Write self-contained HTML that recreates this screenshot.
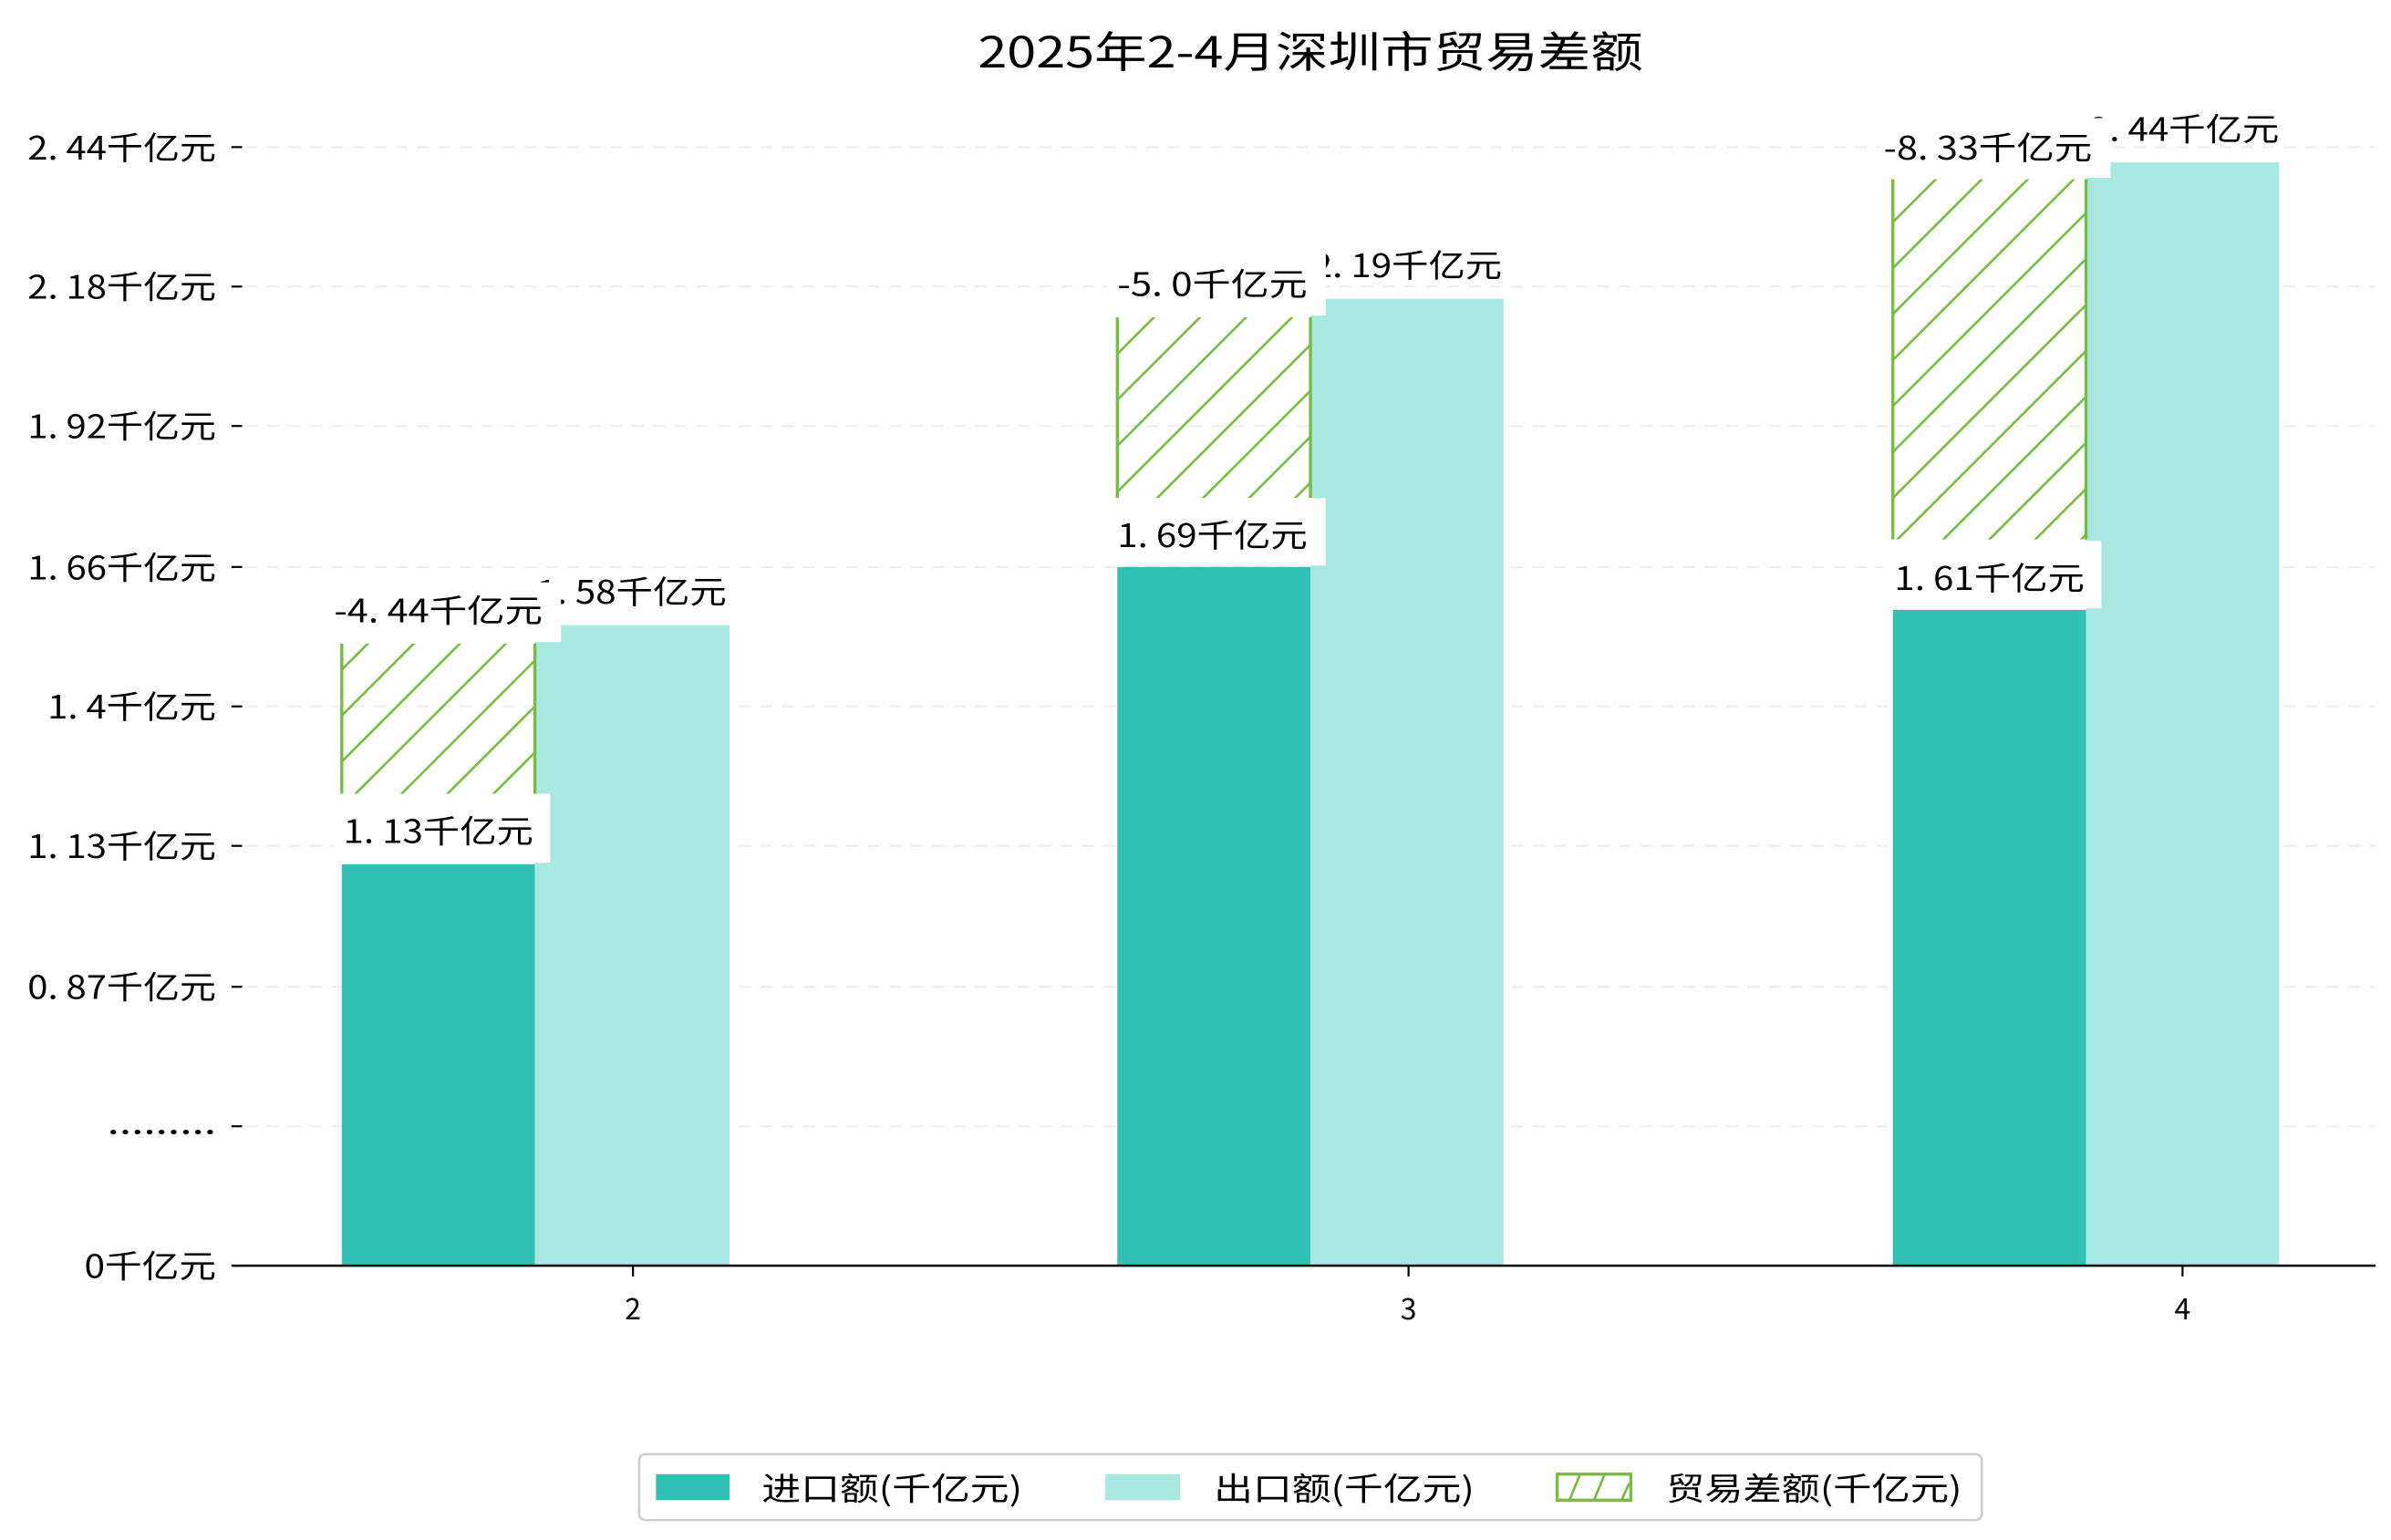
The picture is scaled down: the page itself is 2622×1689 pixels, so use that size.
<!DOCTYPE html>
<html><head><meta charset="utf-8"><style>
html,body{margin:0;padding:0;background:#fff;}
svg{display:block;}
text{font-family:"WenQuanYi Zen Hei","Noto Sans CJK SC",sans-serif;fill:#000;}
</style></head><body>
<svg width="2622" height="1689" viewBox="0 0 1560 1005" preserveAspectRatio="none" xmlns="http://www.w3.org/2000/svg">
<defs>
<pattern id="h" patternUnits="userSpaceOnUse" width="30" height="30">
<path d="M-5,5 L5,-5 M0,30 L30,0 M25,35 L35,25" stroke="#77bb44" stroke-width="1.6"/>
</pattern>
</defs>
<rect width="1560" height="1005" fill="#fff"/>
<text x="638" y="44" font-size="28" textLength="434" lengthAdjust="spacingAndGlyphs">2025年2-4月深圳市贸易差额</text>
<g stroke="#eeeeee" stroke-width="1.2" stroke-dasharray="8,6">
<line x1="160" y1="96" x2="1550" y2="96"/><line x1="160" y1="187" x2="1550" y2="187"/>
<line x1="160" y1="278" x2="1550" y2="278"/><line x1="160" y1="370" x2="1550" y2="370"/>
<line x1="160" y1="461" x2="1550" y2="461"/><line x1="160" y1="552" x2="1550" y2="552"/>
<line x1="160" y1="644" x2="1550" y2="644"/><line x1="160" y1="735" x2="1550" y2="735"/>
</g>
<g stroke="#000" stroke-width="1.3">
<line x1="151" y1="96" x2="158" y2="96"/><line x1="151" y1="187" x2="158" y2="187"/>
<line x1="151" y1="278" x2="158" y2="278"/><line x1="151" y1="370" x2="158" y2="370"/>
<line x1="151" y1="461" x2="158" y2="461"/><line x1="151" y1="552" x2="158" y2="552"/>
<line x1="151" y1="644" x2="158" y2="644"/><line x1="151" y1="735" x2="158" y2="735"/>
<line x1="151" y1="826" x2="158" y2="826"/>
</g>
<g font-size="21" lengthAdjust="spacingAndGlyphs">
<text x="18" y="104" textLength="123" lengthAdjust="spacingAndGlyphs">2. 44千亿元</text>
<text x="18" y="195" textLength="123" lengthAdjust="spacingAndGlyphs">2. 18千亿元</text>
<text x="18" y="286" textLength="123" lengthAdjust="spacingAndGlyphs">1. 92千亿元</text>
<text x="18" y="378" textLength="123" lengthAdjust="spacingAndGlyphs">1. 66千亿元</text>
<text x="31" y="469" textLength="110" lengthAdjust="spacingAndGlyphs">1. 4千亿元</text>
<text x="18" y="560" textLength="123" lengthAdjust="spacingAndGlyphs">1. 13千亿元</text>
<text x="18" y="652" textLength="123" lengthAdjust="spacingAndGlyphs">0. 87千亿元</text>
<text x="70" y="740" textLength="71" lengthAdjust="spacingAndGlyphs">.........</text>
<text x="55" y="834" textLength="86" lengthAdjust="spacingAndGlyphs">0千亿元</text>
</g>
<rect x="223" y="564" width="126" height="262" fill="#31c0b4"/>
<rect x="349" y="408" width="127" height="418" fill="#a9e7e1"/>
<rect x="223" y="420" width="126" height="98" fill="url(#h)"/>
<line x1="223" y1="420" x2="223" y2="518" stroke="#77bb44" stroke-width="2"/>
<line x1="349" y1="420" x2="349" y2="518" stroke="#77bb44" stroke-width="2"/>

<rect x="729" y="370" width="126" height="456" fill="#31c0b4"/>
<rect x="855" y="195" width="126" height="631" fill="#a9e7e1"/>
<rect x="729" y="207" width="126" height="118" fill="url(#h)"/>
<line x1="729" y1="207" x2="729" y2="325" stroke="#77bb44" stroke-width="2"/>
<line x1="855" y1="207" x2="855" y2="325" stroke="#77bb44" stroke-width="2"/>

<rect x="1235" y="398" width="126" height="428" fill="#31c0b4"/>
<rect x="1361" y="106" width="126" height="720" fill="#a9e7e1"/>
<rect x="1235" y="117" width="126" height="235" fill="url(#h)"/>
<line x1="1235" y1="117" x2="1235" y2="352" stroke="#77bb44" stroke-width="2"/>
<line x1="1361" y1="117" x2="1361" y2="352" stroke="#77bb44" stroke-width="2"/>

<g font-size="21">
<text x="350" y="394" textLength="124" lengthAdjust="spacingAndGlyphs">1. 58千亿元</text>
<rect x="212" y="380" width="154" height="39" fill="#fff"/>
<text x="218" y="406" textLength="136" lengthAdjust="spacingAndGlyphs">-4. 44千亿元</text>
<rect x="218" y="518" width="141" height="45" fill="#fff"/>
<text x="224" y="550" textLength="124" lengthAdjust="spacingAndGlyphs">1. 13千亿元</text>

<text x="856" y="181" textLength="124" lengthAdjust="spacingAndGlyphs">2. 19千亿元</text>
<rect x="723" y="165" width="142" height="41" fill="#fff"/>
<text x="729" y="193" textLength="124" lengthAdjust="spacingAndGlyphs">-5. 0千亿元</text>
<rect x="723" y="325" width="142" height="44" fill="#fff"/>
<text x="729" y="357" textLength="124" lengthAdjust="spacingAndGlyphs">1. 69千亿元</text>

<text x="1363" y="92" textLength="124" lengthAdjust="spacingAndGlyphs">2. 44千亿元</text>
<rect x="1227" y="77" width="150" height="39" fill="#fff"/>
<text x="1229" y="104" textLength="136" lengthAdjust="spacingAndGlyphs">-8. 33千亿元</text>
<rect x="1229" y="353" width="142" height="44" fill="#fff"/>
<text x="1236" y="385" textLength="124" lengthAdjust="spacingAndGlyphs">1. 61千亿元</text>
</g>

<line x1="152" y1="826" x2="1550" y2="826" stroke="#000" stroke-width="1.5"/>
<g stroke="#000" stroke-width="1.3">
<line x1="413" y1="826" x2="413" y2="833"/><line x1="919" y1="826" x2="919" y2="833"/><line x1="1424" y1="826" x2="1424" y2="833"/>
</g>
<g font-size="19" text-anchor="middle">
<text x="413" y="861">2</text><text x="919" y="861">3</text><text x="1424" y="861">4</text>
</g>
<rect x="417" y="949" width="876" height="43" rx="4" fill="#fff" stroke="#cccccc" stroke-width="1.5"/>
<rect x="428" y="962" width="48" height="17" fill="#31c0b4"/>
<rect x="721" y="962" width="49" height="17" fill="#a9e7e1"/>
<rect x="1016" y="962" width="48" height="17" fill="#fff" stroke="#77bb44" stroke-width="2"/>
<path d="M1024,979 L1031,962 M1040,979 L1047,962 M1058,979 L1063,968" stroke="#77bb44" stroke-width="1.6"/>
<g font-size="21">
<text x="497" y="979" textLength="170" lengthAdjust="spacingAndGlyphs">进口额(千亿元)</text>
<text x="792" y="979" textLength="170" lengthAdjust="spacingAndGlyphs">出口额(千亿元)</text>
<text x="1087" y="979" textLength="193" lengthAdjust="spacingAndGlyphs">贸易差额(千亿元)</text>
</g>
</svg>
</body></html>
